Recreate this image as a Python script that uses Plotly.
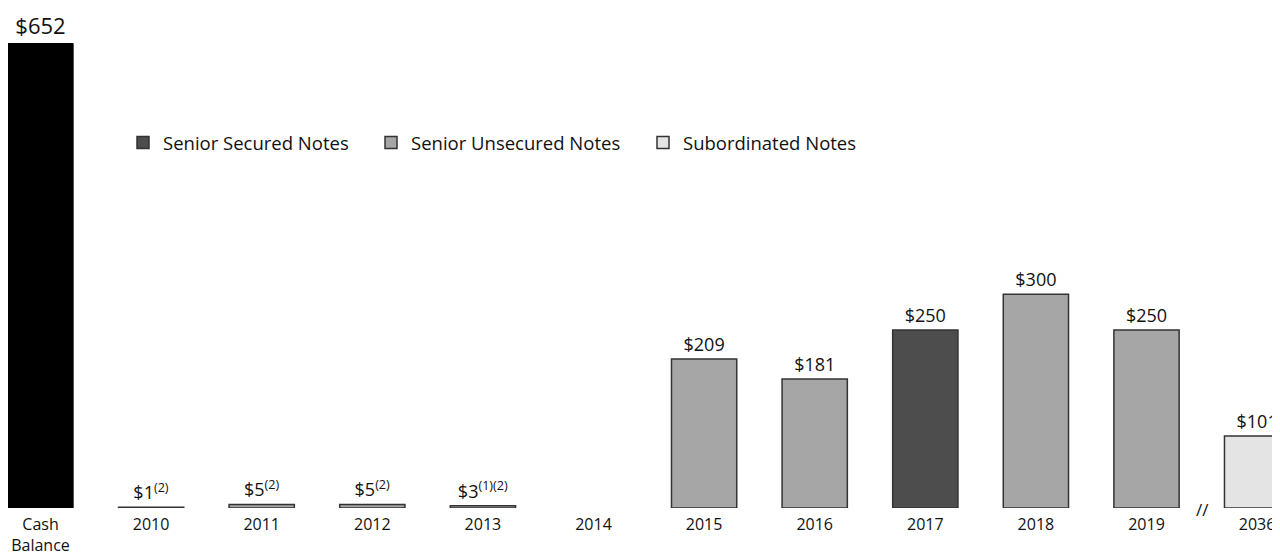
import plotly.graph_objects as go

# ---- data ----
categories = ["Cash Balance", "2010", "2011", "2012", "2013", "2014",
              "2015", "2016", "2017", "2018", "2019", "2036"]
tick_labels = ["Cash<br>Balance", "2010", "2011", "2012", "2013", "2014",
               "2015", "2016", "2017", "2018", "2019", "2036"]
cash_balance = [652, None, None, None, None, None, None, None, None, None, None, None]
senior_secured = [None, None, None, None, None, None, None, None, 250, None, None, None]
senior_unsecured = [None, 1, 5, 5, 3, None, 209, 181, None, 300, 250, None]
subordinated = [None, None, None, None, None, None, None, None, None, None, None, 101]
footnotes = ["", "(2)", "(2)", "(2)", "(1)(2)", "", "", "", "", "", "", ""]

FONT = "Open Sans"
OUTLINE = "#333333"
TXT = "#111111"
W, H = 1272, 544  # page body has an 8px margin


def make_text(values):
    out = []
    for v, fn in zip(values, footnotes):
        if v is None:
            out.append("")
        elif fn:
            out.append(f"${v}<sup>{fn}</sup>")
        else:
            out.append(f"${v}")
    return out


BAR_W = 0.59
fig = go.Figure()

fig.add_trace(go.Bar(
    x=categories, y=cash_balance, name="Cash Balance", showlegend=False,
    width=BAR_W, marker=dict(color="#000000", line=dict(color="#000000", width=1)),
    text=make_text(cash_balance), textposition="outside",
    textfont=dict(family=FONT, size=22, color=TXT),
    constraintext="none", cliponaxis=False, hoverinfo="skip",
))
fig.add_trace(go.Bar(
    x=categories, y=senior_secured, name="Senior Secured Notes", legend="legend",
    width=BAR_W, marker=dict(color="#4d4d4d", line=dict(color=OUTLINE, width=1.5)),
    text=make_text(senior_secured), textposition="outside",
    textfont=dict(family=FONT, size=18, color=TXT),
    constraintext="none", cliponaxis=False,
))
fig.add_trace(go.Bar(
    x=categories, y=senior_unsecured, name="Senior Unsecured Notes", legend="legend2",
    width=BAR_W, marker=dict(color="#a6a6a6", line=dict(color=OUTLINE, width=1.5)),
    text=make_text(senior_unsecured), textposition="outside",
    textfont=dict(family=FONT, size=18, color=TXT),
    constraintext="none", cliponaxis=False,
))
fig.add_trace(go.Bar(
    x=categories, y=subordinated, name="Subordinated Notes", legend="legend3",
    width=BAR_W, marker=dict(color="#e4e4e4", line=dict(color=OUTLINE, width=1.5)),
    text=make_text(subordinated), textposition="outside",
    textfont=dict(family=FONT, size=18, color=TXT),
    constraintext="none", cliponaxis=False,
))

# axis break marker between 2019 and 2036
fig.add_annotation(x=10.51, y=0, xref="x", yref="y", text="//", showarrow=False,
                   font=dict(family=FONT, size=17, color=TXT), yshift=-1)

leg_common = dict(orientation="h", yanchor="middle", y=0.73, xanchor="left",
                  font=dict(family=FONT, size=18.5, color=TXT),
                  bgcolor="rgba(0,0,0,0)")
fig.update_layout(
    width=W, height=H,
    margin=dict(l=0, r=0, t=0, b=44, autoexpand=False),
    paper_bgcolor="white", plot_bgcolor="white",
    barmode="overlay",
    font=dict(family=FONT, color=TXT),
    legend=dict(x=115 / W, **leg_common),
    legend2=dict(x=363 / W, **leg_common),
    legend3=dict(x=635 / W, **leg_common),
    xaxis=dict(categoryorder="array", categoryarray=categories,
               tickvals=categories, ticktext=tick_labels,
               range=[-0.294, 11.207], showgrid=False, zeroline=False,
               showline=False, ticks="", ticklabelstandoff=5, automargin=False,
               tickfont=dict(family=FONT, size=16, color=TXT)),
    yaxis=dict(range=[0, 701.8], visible=False, showgrid=False, zeroline=False,
               automargin=False),
)

fig.write_html("out.html")
